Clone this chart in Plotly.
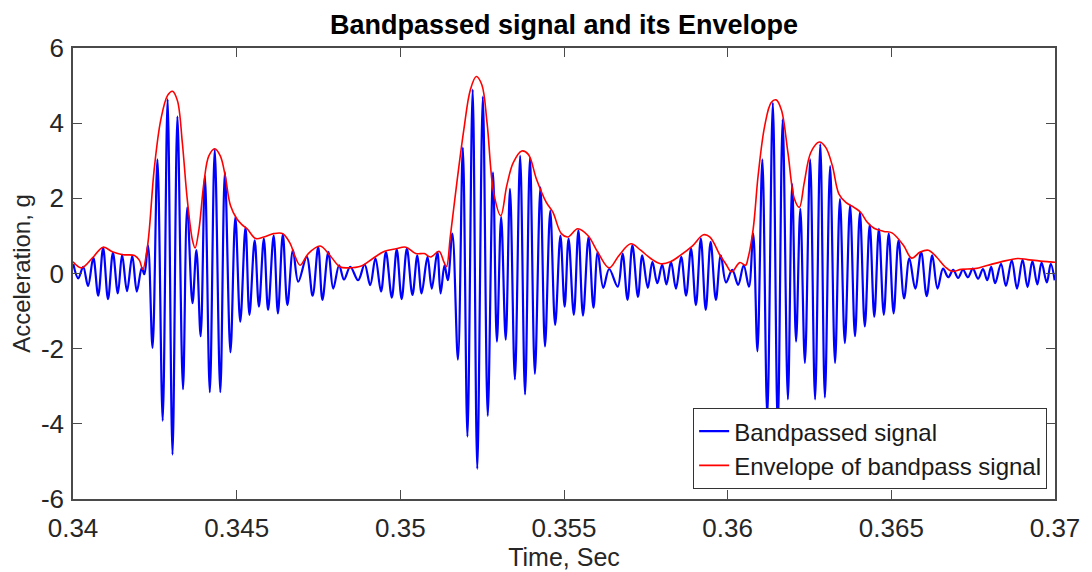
import plotly.graph_objects as go

# Bandpassed acceleration signal: successive crests and troughs (time in ms, value in g)
signal_time_ms = [
    340.01, 340.16, 340.31, 340.46, 340.62, 340.77, 340.92, 341.07, 341.22, 341.37,
    341.50, 341.65, 341.81, 341.95, 342.10, 342.18, 342.29, 342.43, 342.58, 342.74,
    342.89, 343.04, 343.19, 343.36, 343.49, 343.65, 343.77, 343.90, 344.03, 344.18,
    344.33, 344.50, 344.64, 344.81, 344.96, 345.11,
    345.27, 345.39, 345.55, 345.68, 345.83, 345.96, 346.13, 346.26, 346.41, 346.55,
    346.72, 346.88, 347.14, 347.32, 347.49, 347.62, 347.80, 347.95, 348.13, 348.28,
    348.47, 348.71, 348.91, 349.08, 349.24, 349.41, 349.56, 349.74, 349.89, 350.04,
    350.20, 350.37, 350.52, 350.65, 350.83, 350.96, 351.13, 351.23, 351.35, 351.45,
    351.59, 351.76, 351.91, 352.05, 352.21, 352.35, 352.52, 352.67, 352.83, 352.95,
    353.08, 353.22, 353.35, 353.50, 353.66, 353.81, 353.96, 354.11, 354.28, 354.42,
    354.58, 354.73, 354.89, 355.02,
    355.14, 355.30, 355.44, 355.58, 355.75, 355.90, 356.03, 356.20, 356.38, 356.64,
    356.79, 356.94, 357.09, 357.26, 357.39, 357.56, 357.70, 357.85, 358.00, 358.13,
    358.27, 358.42, 358.58, 358.73, 358.88, 359.03, 359.18, 359.33, 359.48, 359.64,
    359.79, 359.95,
    360.14, 360.32, 360.49, 360.65, 360.78, 360.91, 361.06, 361.21, 361.38, 361.53,
    361.68, 361.84, 361.97, 362.09, 362.22, 362.36, 362.52, 362.67, 362.83, 362.97,
    363.13, 363.28, 363.43, 363.58, 363.74, 363.89, 364.04, 364.19, 364.34, 364.48,
    364.62, 364.77, 364.92, 365.07,
    365.22, 365.39, 365.55, 365.73, 365.91, 366.08, 366.25, 366.41, 366.58, 366.74,
    366.89, 367.04, 367.19, 367.34, 367.49, 367.65, 367.80, 367.93, 368.05, 368.17,
    368.35, 368.50, 368.68, 368.84, 369.01, 369.16, 369.31, 369.46, 369.59, 369.75,
    369.87, 369.99,
]
signal_g = [
    0.25, -0.13, 0.18, -0.33, 0.42, -0.59, 0.68, -0.68, 0.55, -0.53,
    0.50, -0.47, 0.47, -0.48, 0.15, -0.02, 0.75, -1.98, 3.04, -3.92,
    4.64, -4.82, 4.18, -3.08, 1.76, -0.79, 0.62, -1.67, 2.60, -3.16,
    3.30, -3.16, 2.70, -2.10, 1.50, -1.28,
    1.23, -1.10, 0.88, -0.88, 0.93, -0.97, 1.01, -1.06, 1.04, -0.84,
    0.62, -0.22, 0.44, -0.59, 0.70, -0.70, 0.57, -0.40, 0.22, -0.16,
    0.18, -0.18, 0.24, -0.31, 0.40, -0.48, 0.57, -0.64, 0.64, -0.68,
    0.66, -0.57, 0.48, -0.53, 0.44, -0.40, 0.57, -0.53, 0.22, -0.18,
    1.06, -2.29, 3.35, -4.34, 4.89, -5.20, 4.71, -3.79, 2.69, -1.81,
    1.50, -1.76, 2.25, -2.82, 3.13, -3.22, 3.08, -2.67, 2.29, -1.94,
    1.67, -1.37, 1.01, -0.88,
    0.93, -1.10, 1.15, -1.12, 0.97, -0.91, 0.57, -0.38, 0.12, -0.35,
    0.53, -0.70, 0.75, -0.62, 0.48, -0.38, 0.31, -0.26, 0.24, -0.29,
    0.31, -0.40, 0.44, -0.59, 0.66, -0.84, 0.93, -0.97, 0.84, -0.70,
    0.48, -0.24,
    0.10, -0.30, 0.22, -0.35, 1.06, -2.07, 3.04, -3.80, 4.54, -4.10,
    4.10, -3.35, 2.38, -1.81, 1.72, -2.38, 3.04, -3.35, 3.44, -3.30,
    2.86, -2.38, 1.98, -1.85, 1.81, -1.67, 1.63, -1.41, 1.30, -1.15,
    1.19, -1.10, 1.06, -1.06,
    0.88, -0.66, 0.40, -0.40, 0.57, -0.60, 0.48, -0.40, 0.13, -0.10,
    0.10, -0.12, 0.10, -0.10, 0.13, -0.14, 0.12, -0.18, 0.18, -0.26,
    0.26, -0.33, 0.35, -0.40, 0.37, -0.36, 0.33, -0.29, 0.29, -0.24,
    0.26, -0.18,
]

# Envelope of the bandpassed signal (time in ms, value in g)
envelope_time_ms = [
    340.00, 340.26, 340.62, 340.92, 341.22, 341.52, 341.88, 342.03, 342.13, 342.28,
    342.48, 342.68, 342.89, 343.04, 343.19, 343.34, 343.49, 343.65, 343.73, 343.85,
    344.00, 344.15, 344.33, 344.50, 344.65, 344.81, 345.01, 345.16, 345.32, 345.58,
    345.83, 346.13, 346.41, 346.64, 346.79, 346.94, 347.19, 347.55, 347.85, 348.15,
    348.40, 348.81, 349.16, 349.52, 349.87, 350.17, 350.47, 350.73, 350.93, 351.18,
    351.33, 351.41, 351.53, 351.74, 351.94, 352.14, 352.32, 352.49, 352.65, 352.85,
    353.07, 353.25, 353.45, 353.71, 353.91, 354.16, 354.46, 354.66, 354.92, 355.12,
    355.42, 355.73, 356.03, 356.38, 356.68, 357.04, 357.34, 357.65, 357.95, 358.25,
    358.55, 358.91, 359.26, 359.46, 359.77, 359.94, 360.12, 360.37, 360.55, 360.62,
    360.78, 360.93, 361.13, 361.33, 361.48, 361.64, 361.84, 362.04, 362.19, 362.34,
    362.54, 362.80, 363.00, 363.20, 363.40, 363.61, 363.86, 364.06, 364.26, 364.46,
    364.77, 365.02, 365.37, 365.62, 365.88, 366.13, 366.38, 366.64, 366.84, 367.14,
    367.55, 367.95, 368.35, 368.86, 369.16, 369.56, 369.87, 370.00,
]
envelope_g = [
    0.31, 0.15, 0.44, 0.70, 0.57, 0.50, 0.48, 0.35, 0.11, 0.75,
    2.77, 4.08, 4.74, 4.85, 4.60, 3.48, 1.98, 0.88, 0.68, 1.19,
    2.42, 3.13, 3.32, 3.13, 2.60, 1.81, 1.45, 1.30, 1.19, 0.93,
    0.97, 1.06, 1.06, 0.79, 0.44, 0.22, 0.53, 0.73, 0.48, 0.18,
    0.15, 0.20, 0.40, 0.59, 0.66, 0.70, 0.53, 0.53, 0.44, 0.59,
    0.31, 0.18, 1.01, 2.51, 3.83, 4.89, 5.24, 5.02, 4.00, 2.16,
    1.54, 2.33, 2.95, 3.26, 3.17, 2.51, 1.89, 1.63, 1.06, 0.97,
    1.19, 1.01, 0.57, 0.15, 0.48, 0.79, 0.62, 0.40, 0.26, 0.31,
    0.48, 0.72, 1.03, 0.97, 0.48, 0.26, 0.04, 0.29, 0.22, 0.40,
    1.19, 2.60, 3.92, 4.55, 4.62, 4.36, 3.22, 1.98, 1.76, 2.42,
    3.22, 3.50, 3.35, 2.86, 2.11, 1.89, 1.76, 1.63, 1.37, 1.21,
    1.12, 1.08, 0.75, 0.41, 0.57, 0.62, 0.44, 0.18, 0.06, 0.11,
    0.13, 0.22, 0.31, 0.40, 0.37, 0.33, 0.31, 0.30,
]

x_tick_vals = [0.34, 0.345, 0.35, 0.355, 0.36, 0.365, 0.37]
x_tick_text = ["0.34", "0.345", "0.35", "0.355", "0.36", "0.365", "0.37"]
y_tick_vals = [-6, -4, -2, 0, 2, 4, 6]
y_tick_text = ["-6", "-4", "-2", "0", "2", "4", "6"]

FONT = "Liberation Sans, Arial, sans-serif"
AXIS_COLOR = "#4a4a4a"

fig = go.Figure()
fig.add_trace(go.Scatter(
    x=[t / 1000 for t in signal_time_ms], y=signal_g,
    mode="lines", name="Bandpassed signal",
    line=dict(color="#0000ff", width=2.2, shape="spline", smoothing=1.0),
))
fig.add_trace(go.Scatter(
    x=[t / 1000 for t in envelope_time_ms], y=envelope_g,
    mode="lines", name="Envelope of bandpass signal",
    line=dict(color="#ff0000", width=1.6, shape="spline", smoothing=1.0),
))

axis_common = dict(
    showgrid=False, zeroline=False, showline=True, mirror="ticks",
    linecolor=AXIS_COLOR, linewidth=1.5, ticks="inside", ticklen=9,
    tickwidth=1.2, tickcolor=AXIS_COLOR,
    tickfont=dict(family=FONT, size=26, color="#262626"),
)

fig.update_layout(
    width=1092, height=572,
    margin=dict(l=73, r=29, t=48, b=70),
    paper_bgcolor="white", plot_bgcolor="white",
    title=dict(
        text="<b>Bandpassed signal and its Envelope</b>",
        font=dict(family=FONT, size=27, color="black"),
        x=0.5, xref="paper", xanchor="center",
        y=1 - 25 / 572, yref="container", yanchor="middle",
    ),
    xaxis=dict(
        range=[0.34, 0.37], tickvals=x_tick_vals, ticktext=x_tick_text,
        ticklabelstandoff=5,
        title=dict(text="Time, Sec", font=dict(family=FONT, size=25, color="#262626"),
                   standoff=0),
        **axis_common,
    ),
    yaxis=dict(
        range=[-6, 6], tickvals=y_tick_vals, ticktext=y_tick_text,
        ticklabelstandoff=2,
        title=dict(text="Acceleration, g", font=dict(family=FONT, size=24, color="#262626"),
                   standoff=4),
        **axis_common,
    ),
    legend=dict(
        x=0.992, xanchor="right", y=0.022, yanchor="bottom",
        bgcolor="white", bordercolor="#333333", borderwidth=1,
        font=dict(family=FONT, size=24, color="#1a1a1a"),
        tracegroupgap=0, itemwidth=30,
    ),
    showlegend=True,
)

fig.write_html("out.html")
